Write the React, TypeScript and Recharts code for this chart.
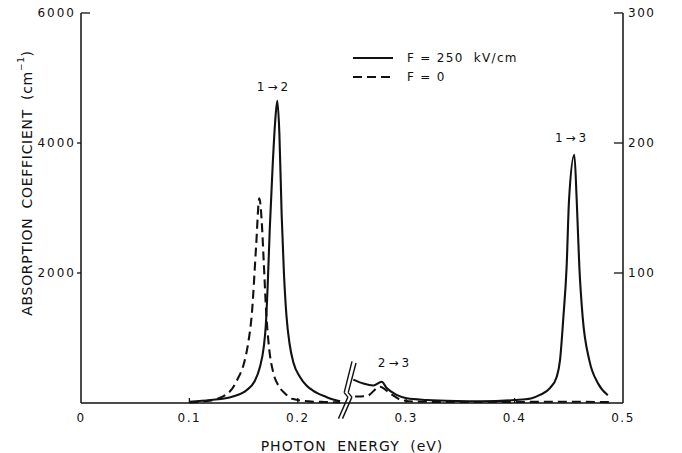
import React from "react"
import { LineChart, Line, XAxis, YAxis, ReferenceLine, ReferenceDot, Legend, Label } from "recharts"

// photon energy (eV) vs absorption coefficient
// left part (below the axis break) uses the left scale, 0-6000 cm^-1
const solidLow: [number, number][] = [
  [0.1, 20], [0.12, 45], [0.14, 100], [0.153, 200], [0.16, 330], [0.165, 550], [0.1685, 850],
  [0.1705, 1200], [0.1722, 1800], [0.1742, 2700], [0.1768, 3650], [0.179, 4300], [0.1811, 4650],
  [0.183, 4150], [0.1851, 2900], [0.1872, 2000], [0.1895, 1350], [0.1925, 900], [0.196, 620],
  [0.202, 400], [0.208, 270], [0.214, 190], [0.2267, 90], [0.239, 25],
]
const dashedLow: [number, number][] = [
  [0.1, 10], [0.12, 40], [0.1375, 180], [0.1445, 370], [0.1505, 620], [0.1545, 950], [0.1575, 1350],
  [0.1615, 2400], [0.1645, 3150], [0.1667, 2800], [0.1685, 2200], [0.171, 1350],
  [0.1735, 850], [0.1775, 460], [0.182, 270], [0.188, 150], [0.1958, 60], [0.21, 25], [0.225, 15], [0.239, 10],
]
// right part (above the break) uses the right scale, 0-300 cm^-1
const solidHigh: [number, number][] = [
  [0.2512, 18], [0.2604, 15], [0.2697, 13.5], [0.2774, 16.4], [0.282, 11.5], [0.2912, 6.2],
  [0.3005, 3.6], [0.319, 2.3], [0.3466, 1.5], [0.37, 1.3], [0.4, 2.3], [0.415, 3.5],
  [0.4234, 6.2], [0.4326, 11.5], [0.4388, 20], [0.4419, 33], [0.445, 66], [0.448, 105],
  [0.4502, 156], [0.4551, 191], [0.4573, 156], [0.4597, 105], [0.4628, 66], [0.4689, 33],
  [0.477, 15], [0.486, 6],
]
const dashedHigh: [number, number][] = [
  [0.2528, 5], [0.2636, 5.4], [0.2758, 12.5], [0.285, 7.4], [0.2958, 2.3], [0.3097, 1],
  [0.35, 0.8], [0.4, 0.8], [0.45, 1], [0.49, 0.6],
]

const energyTicks = [0, 0.1, 0.2, 0.3, 0.4, 0.5]
const leftTicks = [2000, 4000, 6000]
const rightTicks = [100, 200, 300]

// axis break zigzags, in data units of the left scale
const breakMarks: [number, number][][] = [
  [[0.2375, -240], [0.2462, 90], [0.2428, 160], [0.25, 640]],
  [[0.2412, -240], [0.2499, 90], [0.2465, 160], [0.2537, 615]],
]

const toRows = (pts: [number, number][]) => pts.map(([e, a]) => ({ e, a }))

const font = "DejaVu Sans, sans-serif"
const ink = "#111"

const XTick = ({ x, y, payload }: any) => {
  const v = payload.value as number
  const inner = v > 0 && v < 0.5
  return (
    <g>
      {inner && <line x1={x} x2={x} y1={y} y2={y - 5} stroke={ink} strokeWidth={1.3} />}
      <text x={x} y={y + 19} textAnchor="middle" fontSize={12} letterSpacing={1.5} fontFamily={font} fill={ink}>
        {v === 0 ? "0" : v.toFixed(1)}
      </text>
    </g>
  )
}

const LeftTick = ({ x, y, payload }: any) => {
  const top = payload.value === 6000
  return (
    <g>
      <line x1={x} x2={top ? x + 9 : x - 4} y1={y} y2={y} stroke={ink} strokeWidth={1.3} />
      <text x={x - 5} y={y + 4} textAnchor="end" fontSize={12} letterSpacing={2} fontFamily={font} fill={ink}>
        {payload.value}
      </text>
    </g>
  )
}

const RightTick = ({ x, y, payload }: any) => (
  <g>
    <line x1={x} x2={x - 9} y1={y} y2={y} stroke={ink} strokeWidth={1.3} />
    <text x={x + 5} y={y + 4} textAnchor="start" fontSize={12} letterSpacing={1.5} fontFamily={font} fill={ink}>
      {payload.value}
    </text>
  </g>
)

const YTitle = ({ viewBox }: any) => {
  const cx = viewBox.x + 27
  const cy = viewBox.y + 170
  return (
    <text
      x={cx}
      y={cy}
      transform={`rotate(-90 ${cx} ${cy})`}
      textAnchor="middle"
      dominantBaseline="central"
      fontSize={14}
      letterSpacing={0.7}
      wordSpacing={4}
      fontFamily={font}
      fill={ink}
    >
      ABSORPTION COEFFICIENT (cm
      <tspan fontSize={9} dy={-6}>−1</tspan>
      <tspan dy={6}>)</tspan>
    </text>
  )
}

const XTitle = ({ viewBox }: any) => (
  <text
    x={viewBox.x + viewBox.width / 2}
    y={viewBox.y + 48}
    textAnchor="middle"
    fontSize={14}
    letterSpacing={1}
    wordSpacing={5}
    fontFamily={font}
    fill={ink}
  >
    PHOTON ENERGY (eV)
  </text>
)

const LegendBox = () => (
  <div style={{ fontFamily: font, color: ink }}>
    {[
      { label: "F = 250  kV/cm", dash: undefined },
      { label: "F = 0", dash: "9 5" },
    ].map((r) => (
      <div key={r.label} style={{ display: "flex", alignItems: "center", height: 19 }}>
        <svg width={40} height={4} style={{ marginRight: 14 }}>
          <line x1={0} x2={40} y1={2} y2={2} stroke={ink} strokeWidth={2} strokeDasharray={r.dash} />
        </svg>
        <span style={{ fontSize: 12, letterSpacing: 1.3, whiteSpace: "pre" }}>{r.label}</span>
      </div>
    ))}
  </div>
)

const annot = (value: string) => ({
  value,
  position: "center" as const,
  fontSize: 12,
  letterSpacing: 3,
  fontFamily: font,
  fill: ink,
})

export default function App() {
  return (
    <div style={{ position: "absolute", left: 0, top: 0, width: 682, height: 453, background: "#fff" }}>
      <LineChart width={682} height={453} margin={{ top: 13, right: 0, bottom: 0, left: 0 }}>
        <XAxis
          type="number"
          dataKey="e"
          domain={[0, 0.5]}
          ticks={energyTicks}
          allowDataOverflow
          height={50}
          tickSize={0}
          tickMargin={0}
          tick={<XTick />}
          axisLine={{ stroke: ink, strokeWidth: 1.5 }}
        >
          <Label content={<XTitle />} />
        </XAxis>
        <YAxis
          yAxisId="left"
          type="number"
          domain={[0, 6000]}
          ticks={leftTicks}
          width={81}
          tickSize={0}
          tickMargin={0}
          tick={<LeftTick />}
          axisLine={{ stroke: ink, strokeWidth: 1.5 }}
        >
          <Label content={<YTitle />} />
        </YAxis>
        <YAxis
          yAxisId="right"
          orientation="right"
          type="number"
          domain={[0, 300]}
          ticks={rightTicks}
          width={59}
          tickSize={0}
          tickMargin={0}
          tick={<RightTick />}
          axisLine={{ stroke: ink, strokeWidth: 1.5 }}
        />
        <Legend
          layout="vertical"
          align="center"
          verticalAlign="middle"
          content={<LegendBox />}
          wrapperStyle={{ position: "absolute", left: 353, top: 48, width: 220, bottom: "auto", right: "auto" }}
        />
        <Line yAxisId="left" data={toRows(solidLow)} dataKey="a" type="monotone" stroke={ink} strokeWidth={2.1} dot={false} isAnimationActive={false} />
        <Line yAxisId="left" data={toRows(dashedLow)} dataKey="a" type="monotone" stroke={ink} strokeWidth={2.1} strokeDasharray="9 5" dot={false} isAnimationActive={false} />
        <Line yAxisId="right" data={toRows(solidHigh)} dataKey="a" type="monotone" stroke={ink} strokeWidth={2.1} dot={false} isAnimationActive={false} />
        <Line yAxisId="right" data={toRows(dashedHigh)} dataKey="a" type="monotone" stroke={ink} strokeWidth={2.1} strokeDasharray="9 5" dot={false} isAnimationActive={false} />
        {breakMarks.flatMap((pts, i) =>
          pts.slice(1).map((p, j) => (
            <ReferenceLine
              key={`brk-${i}-${j}`}
              yAxisId="left"
              segment={[{ x: pts[j][0], y: pts[j][1] }, { x: p[0], y: p[1] }]}
              stroke={ink}
              strokeWidth={1.4}
              ifOverflow="visible"
            />
          ))
        )}
        <ReferenceDot yAxisId="left" x={0.178} y={4860} r={0} ifOverflow="visible" label={annot("1→2")} />
        <ReferenceDot yAxisId="right" x={0.453} y={204} r={0} ifOverflow="visible" label={annot("1→3")} />
        <ReferenceDot yAxisId="right" x={0.2897} y={30.8} r={0} ifOverflow="visible" label={annot("2→3")} />
      </LineChart>
    </div>
  )
}
